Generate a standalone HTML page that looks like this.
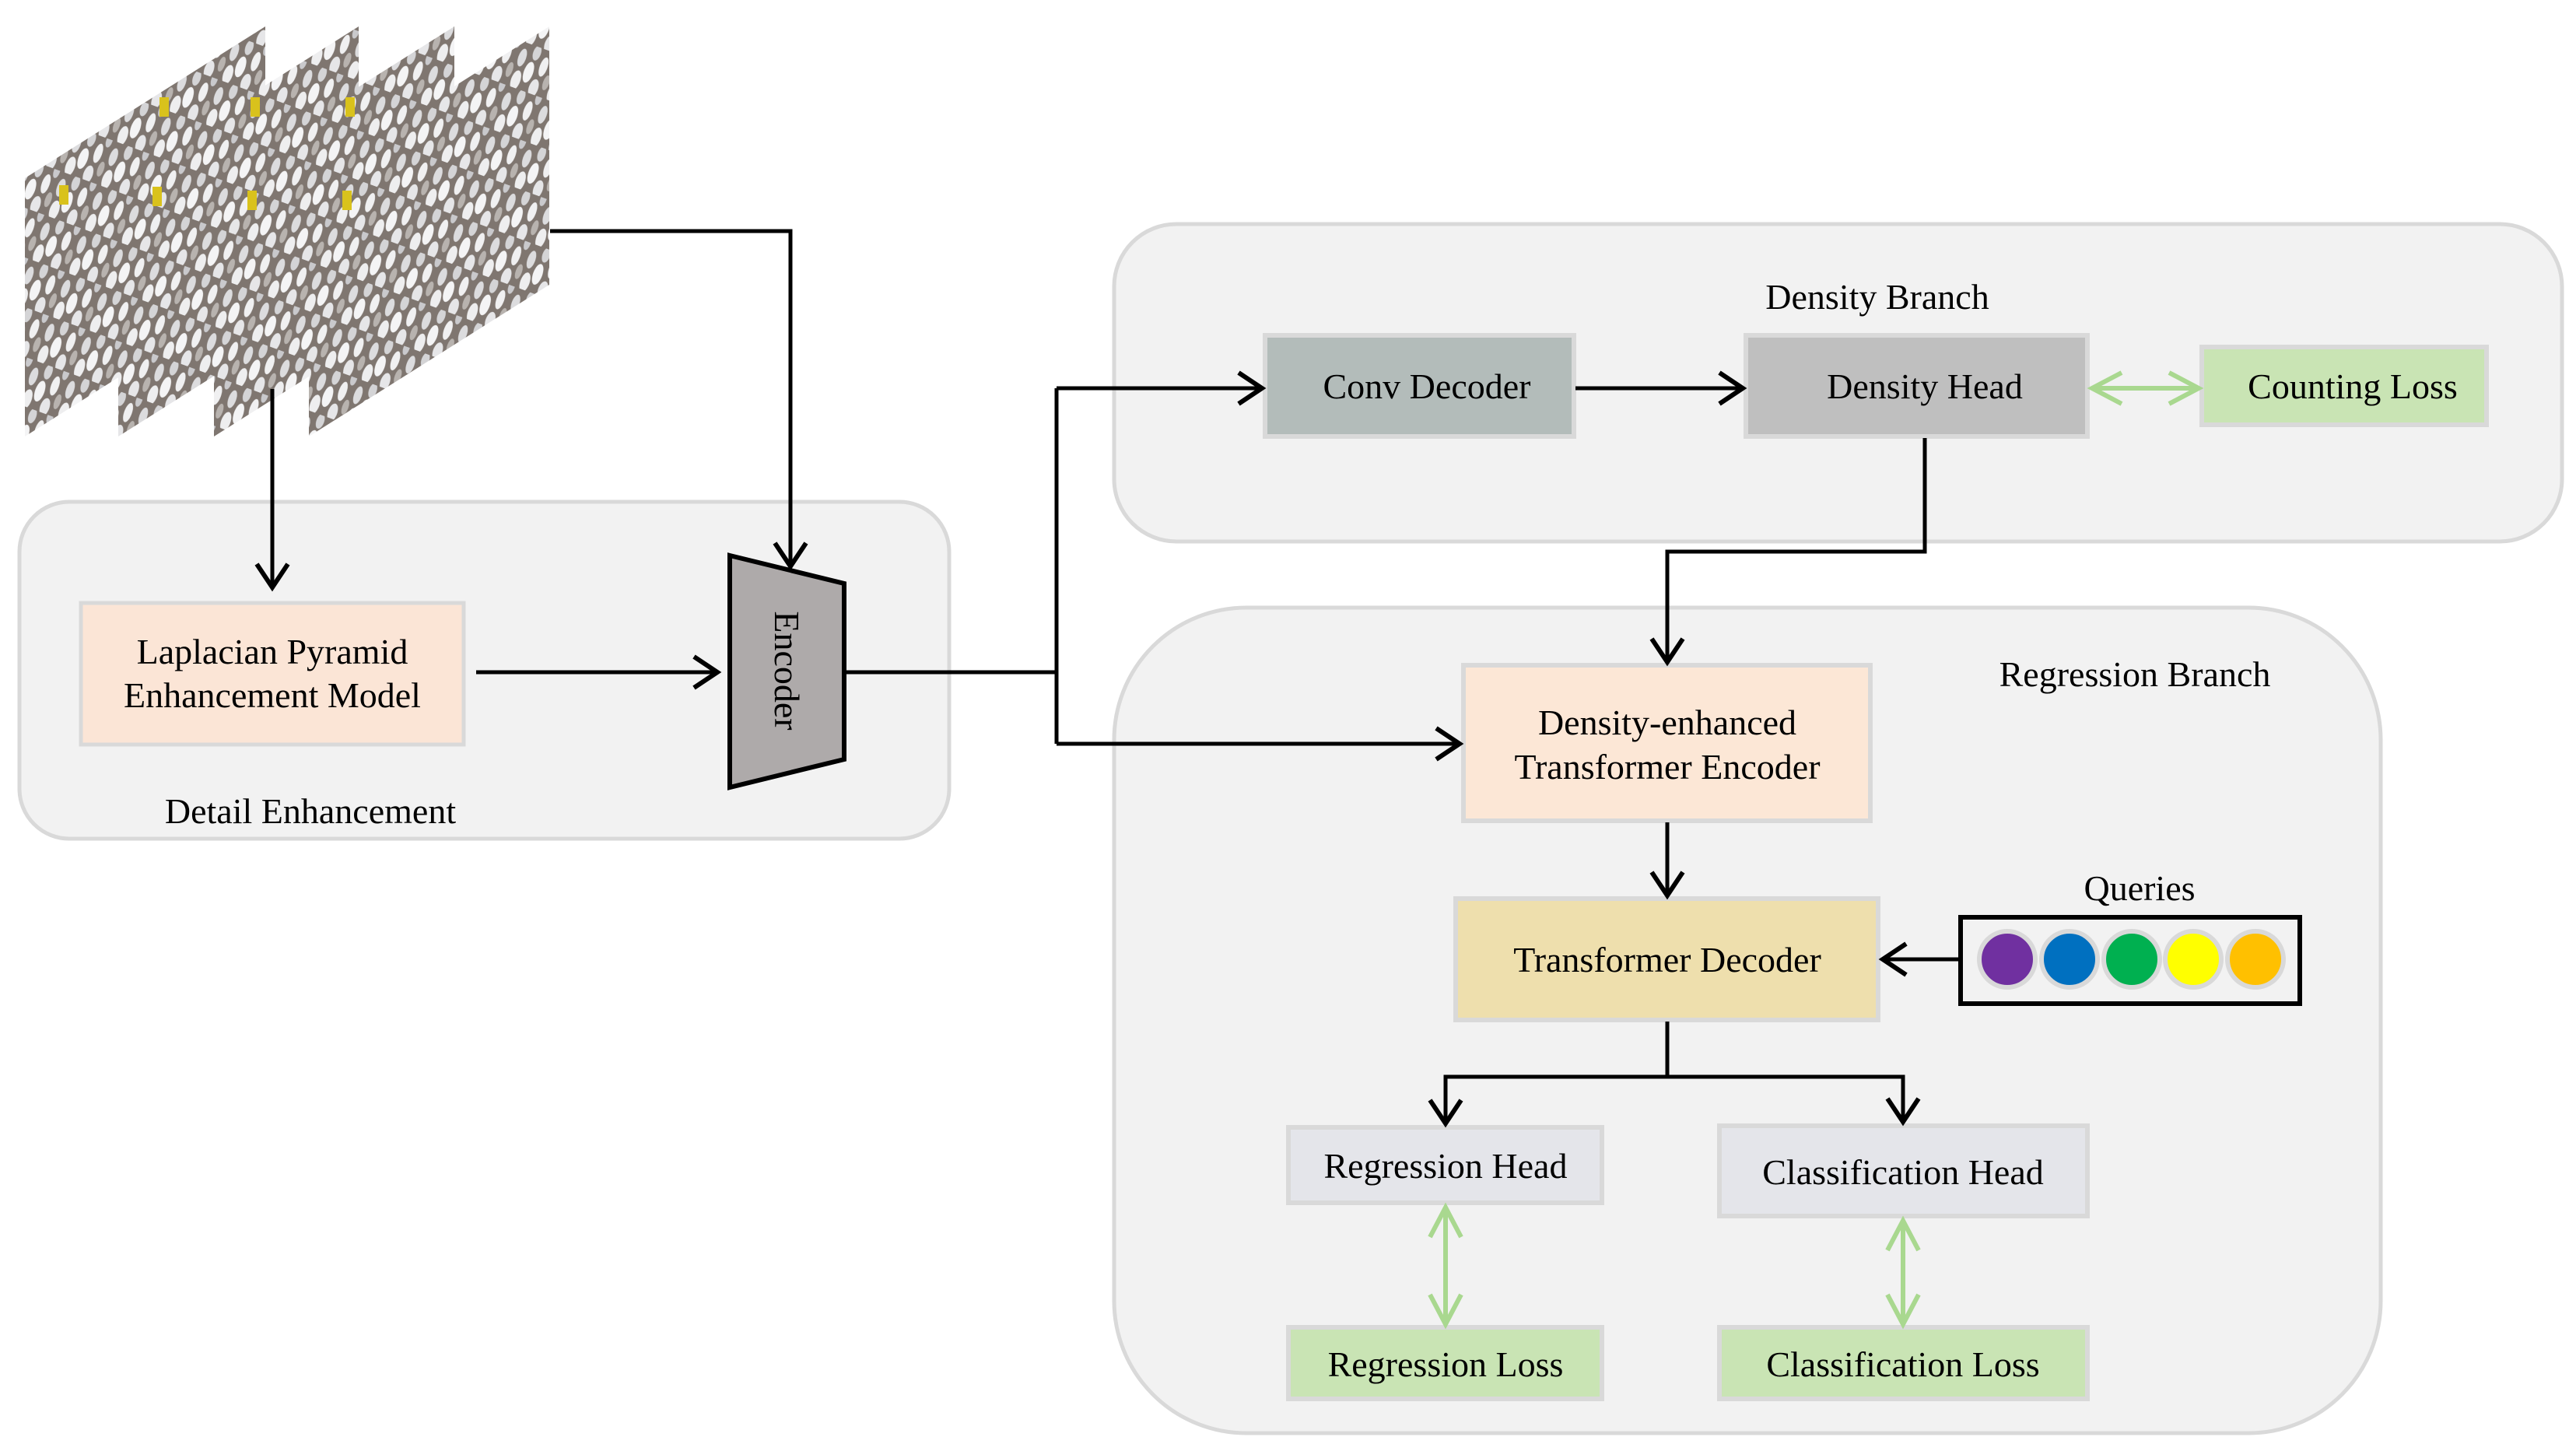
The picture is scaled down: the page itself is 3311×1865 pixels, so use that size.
<!DOCTYPE html>
<html><head><meta charset="utf-8"><style>
html,body{margin:0;padding:0;background:#fff;}
svg{display:block;}
text{font-family:"Liberation Serif",serif;font-size:46px;fill:#000;}
</style></head><body>
<svg width="3311" height="1865" viewBox="0 0 3311 1865" xmlns="http://www.w3.org/2000/svg">
<defs>
<marker id="ab" markerUnits="userSpaceOnUse" markerWidth="60" markerHeight="60" viewBox="-40 -30 50 60" refX="0" refY="0" orient="auto-start-reverse">
<path d="M-30,-20 L0,0 L-30,20" fill="none" stroke="#000" stroke-width="6"/>
</marker>
<marker id="ag" markerUnits="userSpaceOnUse" markerWidth="60" markerHeight="60" viewBox="-40 -30 50 60" refX="0" refY="0" orient="auto-start-reverse">
<path d="M-38,-20 L0,0 L-38,20" fill="none" stroke="#a9d88f" stroke-width="6"/>
</marker>
<pattern id="chk" width="60" height="50" patternUnits="userSpaceOnUse" patternTransform="rotate(-70)">
<rect width="60" height="50" fill="#7f7670"/>
<ellipse cx="10" cy="8" rx="13" ry="6" fill="#eeeeef"/>
<ellipse cx="40" cy="6" rx="12" ry="5" fill="#dcdcde"/>
<ellipse cx="25" cy="20" rx="14" ry="6" fill="#f4f4f5"/>
<ellipse cx="52" cy="22" rx="10" ry="5" fill="#d4d4d6"/>
<ellipse cx="8" cy="33" rx="12" ry="6" fill="#e6e6e8"/>
<ellipse cx="38" cy="36" rx="13" ry="5" fill="#f0f0f1"/>
<ellipse cx="58" cy="44" rx="9" ry="4" fill="#c9c9cc"/>
<ellipse cx="20" cy="46" rx="10" ry="4" fill="#b8b3af"/>
</pattern>
</defs>

<!-- image frames -->
<g>
<polygon points="32,229 341,34 341,366 32,561" fill="url(#chk)"/>
<polygon points="152,229 461,34 461,366 152,561" fill="url(#chk)"/>
<polygon points="275,229 584,34 584,366 275,561" fill="url(#chk)"/>
<polygon points="397,229 706,34 706,366 397,561" fill="url(#chk)"/>
<rect x="205" y="125" width="12" height="25" fill="#d9c21c"/>
<rect x="322" y="125" width="12" height="25" fill="#d9c21c"/>
<rect x="444" y="125" width="12" height="25" fill="#d9c21c"/>
<rect x="76" y="238" width="12" height="25" fill="#d9c21c"/>
<rect x="196" y="240" width="12" height="25" fill="#d9c21c"/>
<rect x="318" y="245" width="12" height="25" fill="#d9c21c"/>
<rect x="440" y="245" width="12" height="25" fill="#d9c21c"/>
</g>

<!-- Detail Enhancement group -->
<rect x="25" y="645" width="1195" height="433" rx="64" fill="#f2f2f2" stroke="#d9d9d9" stroke-width="5"/>
<rect x="104" y="775" width="492" height="182" fill="#fbe5d6" stroke="#d9d9d9" stroke-width="5"/>
<text x="350" y="853" text-anchor="middle">Laplacian Pyramid</text>
<text x="350" y="909" text-anchor="middle">Enhancement Model</text>
<text x="399" y="1058" text-anchor="middle">Detail Enhancement</text>

<polygon points="938,714 1085,750 1085,976 938,1012" fill="#aeaaaa" stroke="#000" stroke-width="6"/>
<text transform="translate(996,862) rotate(90)" text-anchor="middle">Encoder</text>

<!-- Density branch -->
<rect x="1432" y="288" width="1861" height="408" rx="80" fill="#f2f2f2" stroke="#d9d9d9" stroke-width="5"/>
<text x="2413" y="397" text-anchor="middle">Density Branch</text>
<rect x="1626" y="431" width="397" height="130" fill="#b3bcba" stroke="#d9d9d9" stroke-width="6"/>
<text x="1834" y="512" text-anchor="middle">Conv Decoder</text>
<rect x="2244" y="431" width="439" height="130" fill="#bfbfbf" stroke="#d9d9d9" stroke-width="6"/>
<text x="2474" y="512" text-anchor="middle">Density Head</text>
<rect x="2830" y="446" width="366" height="100" fill="#c9e4b4" stroke="#d9d9d9" stroke-width="6"/>
<text x="3024" y="512" text-anchor="middle">Counting Loss</text>

<!-- Regression branch -->
<rect x="1432" y="781" width="1628" height="1061" rx="170" fill="#f2f2f2" stroke="#d9d9d9" stroke-width="5"/>
<text x="2744" y="882" text-anchor="middle">Regression Branch</text>
<rect x="1881" y="855" width="523" height="200" fill="#fce7d6" stroke="#d9d9d9" stroke-width="6"/>
<text x="2143" y="944" text-anchor="middle">Density-enhanced</text>
<text x="2143" y="1001" text-anchor="middle">Transformer Encoder</text>
<rect x="1871" y="1155" width="543" height="156" fill="#eedfad" stroke="#d9d9d9" stroke-width="6"/>
<text x="2143" y="1249" text-anchor="middle">Transformer Decoder</text>

<text x="2750" y="1157" text-anchor="middle">Queries</text>
<rect x="2520" y="1179" width="436" height="111" fill="#f2f2f2" stroke="#000" stroke-width="6"/>
<g stroke="#d9d9d9" stroke-width="6">
<circle cx="2580" cy="1233" r="36" fill="#7030a0"/>
<circle cx="2660" cy="1233" r="36" fill="#0070c0"/>
<circle cx="2740" cy="1233" r="36" fill="#00b050"/>
<circle cx="2819" cy="1233" r="36" fill="#ffff00"/>
<circle cx="2899" cy="1233" r="36" fill="#ffc000"/>
</g>

<rect x="1656" y="1449" width="403" height="97" fill="#e4e5ea" stroke="#d9d9d9" stroke-width="6"/>
<text x="1858" y="1514" text-anchor="middle">Regression Head</text>
<rect x="2210" y="1447" width="473" height="116" fill="#e4e5ea" stroke="#d9d9d9" stroke-width="6"/>
<text x="2446" y="1522" text-anchor="middle">Classification Head</text>
<rect x="1656" y="1706" width="403" height="92" fill="#c9e4b4" stroke="#d9d9d9" stroke-width="6"/>
<text x="1858" y="1769" text-anchor="middle">Regression Loss</text>
<rect x="2210" y="1706" width="473" height="92" fill="#c9e4b4" stroke="#d9d9d9" stroke-width="6"/>
<text x="2446" y="1769" text-anchor="middle">Classification Loss</text>

<!-- connectors -->
<g fill="none" stroke="#000" stroke-width="5">
<path d="M350,500 V755" marker-end="url(#ab)"/>
<path d="M707,297 H1016 V728" marker-end="url(#ab)"/>
<path d="M612,864 H922" marker-end="url(#ab)"/>
<path d="M1086,864 H1358"/>
<path d="M1358,499 V956"/>
<path d="M1358,499 H1622" marker-end="url(#ab)"/>
<path d="M1358,956 H1876" marker-end="url(#ab)"/>
<path d="M2025,499 H2240" marker-end="url(#ab)"/>
<path d="M2474,563 V709 H2143 V851" marker-end="url(#ab)"/>
<path d="M2143,1057 V1151" marker-end="url(#ab)"/>
<path d="M2518,1233 H2420" marker-end="url(#ab)"/>
<path d="M2143,1313 V1384 H1858 V1444" marker-end="url(#ab)"/>
<path d="M2143,1384 H2446 V1442" marker-end="url(#ab)"/>
</g>
<g fill="none" stroke="#a9d88f" stroke-width="6">
<path d="M2689,499 H2826" marker-start="url(#ag)" marker-end="url(#ag)"/>
<path d="M1858,1552 V1702" marker-start="url(#ag)" marker-end="url(#ag)"/>
<path d="M2446,1569 V1702" marker-start="url(#ag)" marker-end="url(#ag)"/>
</g>
</svg>
</body></html>
